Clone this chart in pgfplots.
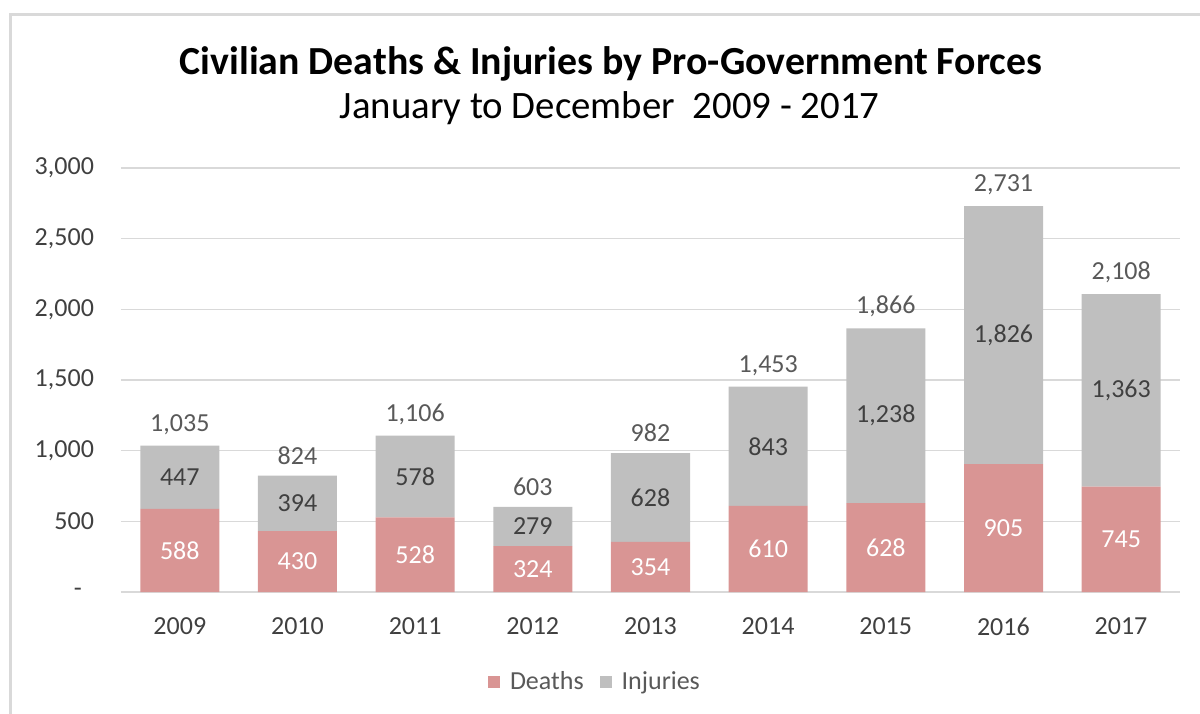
\documentclass[border=0pt]{standalone}
\usepackage{pgfplots}
\pgfplotsset{compat=1.18}
\usepackage{pgfplotstable}
\usepackage{fontspec}
\setmainfont{Carlito}

\definecolor{deaths}{HTML}{D99594}
\definecolor{injuries}{HTML}{BFBFBF}
\definecolor{gridgray}{HTML}{D9D9D9}
\definecolor{labelgray}{HTML}{404040}
\definecolor{legendgray}{HTML}{595959}

% year, deaths, injuries, total
\pgfplotstableread{
year d i t
2009 588 447 1035
2010 430 394 824
2011 528 578 1106
2012 324 279 603
2013 354 628 982
2014 610 843 1453
2015 628 1238 1866
2016 905 1826 2731
2017 745 1363 2108
}\casualties

\pgfplotsset{
  /pgf/number format/assume math mode=true,
  base/.style={
    width=529.5pt, height=212pt, scale only axis,
    xmin=2008.5, xmax=2017.5, ymin=0, ymax=3000,
    font=\fontsize{13}{15}\selectfont,
  },
}

\begin{document}
\begin{tikzpicture}
% frame and page size
\useasboundingbox (-60.5pt,-60.5pt) rectangle (539.5pt,296pt);
\draw[gridgray, line width=1.2pt] (-55.3pt,-70pt) -- (-55.3pt,288.8pt) -- (560pt,288.8pt);

\begin{axis}[base,
  ybar stacked, bar width=39.5pt,
  axis line style={draw=none},
  major tick length=0pt,
  ymajorgrids, grid style={gridgray, line width=0.7pt},
  ytick={0,500,...,3000},
  yticklabels={{-\kern6pt},{500},{1,000},{1,500},{2,000},{2,500},{3,000}},
  xtick={2009,...,2017},
  xticklabels={2009,2010,2011,2012,2013,2014,2015,2016,2017},
  tick label style={text=labelgray},
  yticklabel style={xshift=-10pt},
  xticklabel style={yshift=-9.5pt},
  legend columns=2,
  legend style={at={(0.4485,-0.212)}, anchor=center, draw=none,
    font=\fontsize{13}{15}\selectfont, text=legendgray,
    /tikz/every even column/.append style={column sep=6pt}},
  legend image code/.code={\fill[#1] (0pt,-3pt) rectangle (6pt,3pt);
    \path (9pt,0pt);},
]
\addplot[fill=deaths, draw=none] table[x=year, y=d] {\casualties};
\addplot[fill=injuries, draw=none] table[x=year, y=i] {\casualties};
\legend{Deaths, Injuries}
\end{axis}

% data labels
\begin{axis}[base, hide axis]
\addplot[draw=none, mark=none, nodes near coords, point meta=explicit,
  every node near coord/.append style={text=white, anchor=center}]
  table[x=year, y expr=\thisrow{d}/2, meta=d] {\casualties};
\addplot[draw=none, mark=none, nodes near coords, point meta=explicit,
  every node near coord/.append style={text=labelgray, anchor=center}]
  table[x=year, y expr=\thisrow{d}+\thisrow{i}/2, meta=i] {\casualties};
\addplot[draw=none, mark=none, nodes near coords, point meta=explicit,
  every node near coord/.append style={text=legendgray, anchor=south, yshift=2pt}]
  table[x=year, y=t, meta=t] {\casualties};
\end{axis}

\node[font=\fontsize{19.9}{23}\selectfont\bfseries] at (245pt,264pt)
  {Civilian Deaths \& Injuries by Pro-Government Forces};
\node[font=\fontsize{19.4}{22}\selectfont] at (244.3pt,241.8pt)
  {January to December\ \ 2009 - 2017};
\end{tikzpicture}
\end{document}
